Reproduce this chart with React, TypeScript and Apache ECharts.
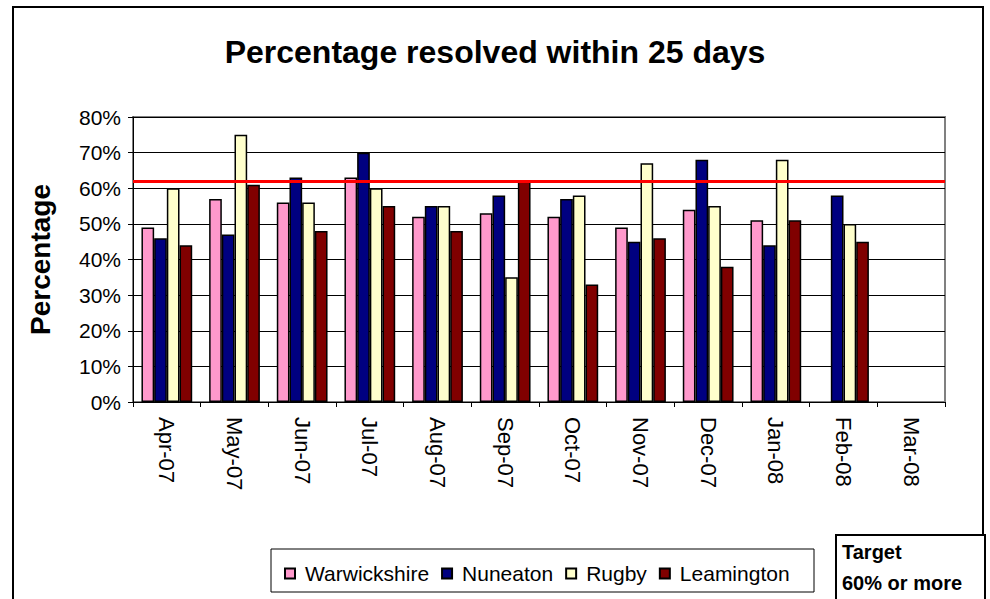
import React, { useEffect, useRef } from "react";
import * as echarts from "echarts";

const months = ["Apr-07", "May-07", "Jun-07", "Jul-07", "Aug-07", "Sep-07", "Oct-07", "Nov-07", "Dec-07", "Jan-08", "Feb-08", "Mar-08"];
const warwickshire = [49, 57, 56, 63, 52, 53, 52, 49, 54, 51, null, null];
const nuneaton = [46, 47, 63, 70, 55, 58, 57, 45, 68, 44, 58, null];
const rugby = [60, 75, 56, 60, 55, 35, 58, 67, 55, 68, 50, null];
const leamington = [44, 61, 48, 55, 48, 62, 33, 46, 38, 51, 45, null];
const targetValue = 62;
const yTicks = { min: 0, max: 80, interval: 10 };

const FONT = "'Liberation Sans', Arial, sans-serif";

export default function App() {
  const ref = useRef<HTMLDivElement>(null);
  useEffect(() => {
    if (!ref.current) return;
    const chart = echarts.init(ref.current, undefined, { renderer: "svg" });
    const mkSeries = (name: string, data: (number | null)[], color: string, extra: any = {}) => ({
      name,
      type: "bar",
      data,
      barGap: "0%",
      barCategoryGap: "25%",
      itemStyle: { color, borderColor: "#000", borderWidth: 1.5 },
      ...extra,
    });
    chart.setOption({
      animation: false,
      backgroundColor: "#fff",
      textStyle: { fontFamily: FONT },
      title: {
        text: "Percentage resolved within 25 days",
        left: "center",
        top: 31,
        textStyle: { fontFamily: FONT, fontWeight: "bold", fontSize: 32, color: "#000" },
      },
      legend: {
        left: 279,
        top: 558,
        itemWidth: 10,
        itemHeight: 10,
        itemGap: 12,
        icon: "rect",
        textStyle: { fontFamily: FONT, fontSize: 21, color: "#000", padding: [0, 0, 0, 5] },
        data: ["Warwickshire", "Nuneaton", "Rugby", "Leamington"],
      },
      grid: {
        left: 133,
        right: 45,
        top: 117,
        bottom: 197,
        show: true,
        borderColor: "#808080",
        borderWidth: 2,
        backgroundColor: "transparent",
      },
      xAxis: {
        type: "category",
        data: months,
        axisLine: { lineStyle: { color: "#000", width: 1 } },
        axisTick: { show: true, length: 5, lineStyle: { color: "#000" } },
        axisLabel: { rotate: -90, margin: 15, fontFamily: FONT, fontSize: 22, color: "#000" },
      },
      yAxis: {
        type: "value",
        min: yTicks.min,
        max: yTicks.max,
        interval: yTicks.interval,
        name: "Percentage",
        nameLocation: "middle",
        nameRotate: 90,
        nameGap: 79,
        nameTextStyle: { fontFamily: FONT, fontWeight: "bold", fontSize: 28, color: "#000" },
        axisLine: { show: true, lineStyle: { color: "#000", width: 1 } },
        axisTick: { show: true, length: 5, lineStyle: { color: "#000" } },
        axisLabel: { formatter: "{value}%", margin: 12, fontFamily: FONT, fontSize: 21, color: "#000" },
        splitLine: { show: true, lineStyle: { color: "#000", width: 1 } },
      },
      series: [
        mkSeries("Warwickshire", warwickshire, "#FF99CC", {
          markLine: {
            silent: true,
            symbol: "none",
            label: { show: false },
            lineStyle: { color: "#FF0000", width: 3, type: "solid" },
            data: [{ yAxis: targetValue }],
          },
        }),
        mkSeries("Nuneaton", nuneaton, "#000080"),
        mkSeries("Rugby", rugby, "#FFFFCC"),
        mkSeries("Leamington", leamington, "#800000"),
      ],
      graphic: [
        {
          type: "rect",
          shape: { x: 13, y: 7, width: 970, height: 640 },
          style: { fill: "none", stroke: "#000", lineWidth: 2 },
          silent: true,
          z: -1,
        },
        {
          type: "rect",
          shape: { x: 271, y: 549, width: 543, height: 43 },
          style: { fill: "none", stroke: "#000", lineWidth: 1 },
          silent: true,
        },
        {
          type: "rect",
          shape: { x: 836, y: 535, width: 149, height: 100 },
          style: { fill: "#fff", stroke: "#000", lineWidth: 2 },
          silent: true,
          z: 10,
        },
        {
          type: "text",
          x: 842,
          y: 552,
          style: { text: "Target", fontFamily: FONT, fontWeight: "bold", fontSize: 20, fill: "#000", verticalAlign: "middle" },
          z: 11,
        },
        {
          type: "text",
          x: 842,
          y: 583,
          style: { text: "60% or more", fontFamily: FONT, fontWeight: "bold", fontSize: 20, fill: "#000", verticalAlign: "middle" },
          z: 11,
        },
      ],
    });
    return () => chart.dispose();
  }, []);
  return <div ref={ref} style={{ position: "fixed", left: 0, top: 0, width: 990, height: 599 }} />;
}
